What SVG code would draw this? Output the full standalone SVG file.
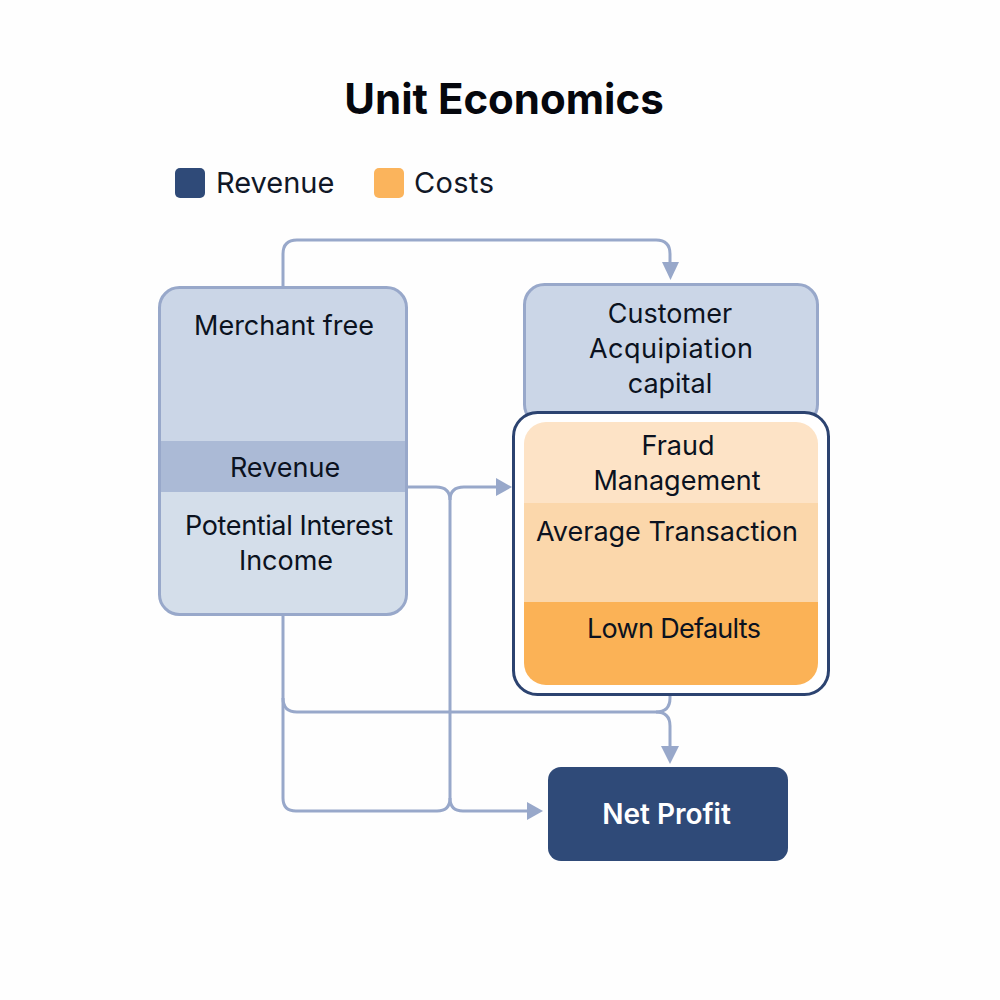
<svg xmlns="http://www.w3.org/2000/svg" width="1000" height="1000" viewBox="0 0 1000 1000">
<style>
text{font-family:"Inter","Liberation Sans",sans-serif;fill:#0b1220;font-size:27px;text-anchor:middle}
.title{font-size:42px;font-weight:700;fill:#05070d}
.legend{font-size:29px;text-anchor:start;fill:#111827}
.conn{fill:none;stroke:#98a8ca;stroke-width:3}
.head{fill:#98a8ca}
</style>
<defs>
<clipPath id="leftClip"><rect x="160" y="288" width="246" height="325" rx="20"/></clipPath>
<clipPath id="innerClip"><rect x="524" y="422" width="294" height="263" rx="22"/></clipPath>
</defs>
<rect width="1000" height="1000" fill="#fefefe"/>
<g id="title"><text class="title" x="504" y="114">Unit Economics</text></g>
<g id="legend">
<rect x="175" y="168" width="30" height="30" rx="5" fill="#2f4a78"/>
<text class="legend" x="216" y="193">Revenue</text>
<rect x="374" y="168" width="30" height="30" rx="5" fill="#fbb45c"/>
<text class="legend" x="414" y="193" textLength="80">Costs</text>
</g>
<g id="connectors">
<path class="conn" d="M283 287V254Q283 240 297 240H656Q670 240 670 254V264"/>
<polygon class="head" points="662,262 679,262 670.500,280"/>
<path class="conn" d="M407 487H436Q450 487 450 500V798Q450 811 437 811H296Q283 811 283 798V614"/>
<path class="conn" d="M450 500Q450 487 464 487H498"/>
<polygon class="head" points="496,478 512,487 496,496"/>
<path class="conn" d="M450 798Q450 811 463 811H528"/>
<polygon class="head" points="527,802 543,811 527,820"/>
<path class="conn" d="M283 698Q283 712 297 712H656Q670 712 670 698V694"/>
<path class="conn" d="M656 712Q670 712 670 726V748"/>
<polygon class="head" points="661,746 679,746 670,764"/>
</g>
<g id="customer-acquisition">
<rect x="524.500" y="284.500" width="293" height="140" rx="20" fill="#cbd6e7" stroke="#98a8ca" stroke-width="3"/>
<text x="670" y="323">Customer</text>
<text x="671" y="358" textLength="164">Acquipiation</text>
<text x="670" y="393">capital</text>
</g>
<g id="revenue-stack">
<rect x="159.500" y="287.500" width="247" height="327" rx="20" fill="#d4deea"/>
<g clip-path="url(#leftClip)">
<rect x="159" y="287" width="248" height="154" fill="#cbd6e7"/>
<rect x="159" y="441" width="248" height="51" fill="#abbad6"/>
</g>
<rect x="159.500" y="287.500" width="247" height="327" rx="20" fill="none" stroke="#98a8ca" stroke-width="3"/>
<text x="284" y="335">Merchant free</text>
<text x="285" y="477">Revenue</text>
<text x="289" y="535" textLength="208">Potential Interest</text>
<text x="286" y="570">Income</text>
</g>
<g id="cost-stack">
<rect x="513.500" y="412.500" width="315" height="282" rx="24" fill="#fff" stroke="#2c4370" stroke-width="3"/>
<g clip-path="url(#innerClip)">
<rect x="524" y="422" width="294" height="81" fill="#fde3c6"/>
<rect x="524" y="503" width="294" height="99" fill="#fbd7ab"/>
<rect x="524" y="602" width="294" height="83" fill="#fbb256"/>
</g>
<text x="678" y="455">Fraud</text>
<text x="677" y="490">Management</text>
<text x="667" y="541">Average Transaction</text>
<text x="674" y="638" textLength="174">Lown Defaults</text>
</g>
<g id="net-profit">
<rect x="548" y="767" width="240" height="94" rx="13" fill="#2f4a78"/>
<text x="666.500" y="824" style="fill:#fff;font-weight:600;font-size:28px">Net Profit</text>
</g>
</svg>
